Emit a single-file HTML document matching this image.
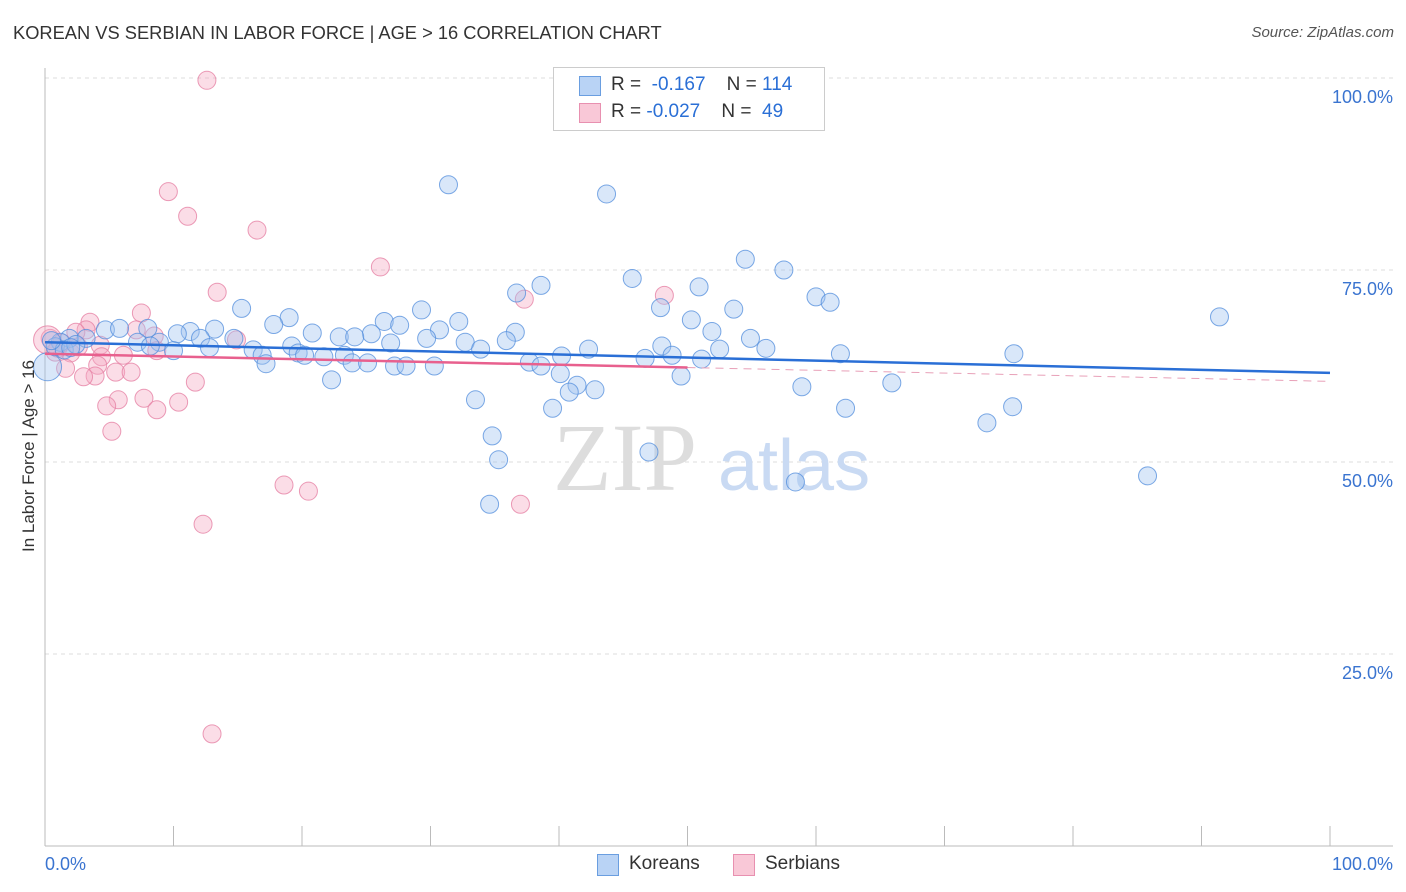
<!DOCTYPE html>
<html><head><meta charset="utf-8"><style>
body{margin:0;background:#fff;font-family:"Liberation Sans",sans-serif;}
#wrap{position:relative;width:1406px;height:892px;overflow:hidden;}
.t{position:absolute;white-space:nowrap;}
</style></head><body>
<div id="wrap">
<div class="t" style="left:13px;top:22px;font-size:18.3px;color:#333;">KOREAN VS SERBIAN IN LABOR FORCE | AGE &gt; 16 CORRELATION CHART</div>
<div class="t" style="right:12px;top:24px;font-size:15px;color:#555;font-style:italic;">Source: ZipAtlas.com</div>
<svg id="svg" width="1406" height="892" style="position:absolute;left:0;top:0"></svg>
</div>
<script>
const blueX=[31.4,43.7,54.5,57.5,45.7,38.6,50.9,36.7,60.0,61.1,15.3,29.3,47.9,53.6,91.4,19.0,32.2,50.3,26.4,17.8,27.6,13.2,30.7,51.9,36.6,20.8,25.4,11.3,10.3,8.0,4.7,5.8,22.9,24.1,29.7,14.7,54.9,12.1,1.9,3.2,1.2,7.2,8.9,19.2,26.9,32.7,35.9,48.0,12.8,8.2,33.9,42.3,52.5,56.1,16.2,19.7,10.0,16.9,21.7,23.3,20.2,40.2,48.8,46.7,51.1,61.9,75.4,17.2,23.9,25.1,27.2,28.1,30.3,37.7,38.6,40.1,49.5,22.3,41.4,40.8,42.8,58.9,65.9,33.5,39.5,62.3,75.3,73.3,34.8,47.0,35.3,85.8,58.4,34.6,0.2,0.8,1.5,2.4,0.5,2.0];
const blueY=[86.1,84.9,76.4,75.0,73.9,73.0,72.8,72.0,71.5,70.8,70.0,69.8,70.1,69.9,68.9,68.8,68.3,68.5,68.3,67.9,67.8,67.3,67.2,67.0,66.9,66.8,66.7,67.0,66.7,67.4,67.2,67.4,66.3,66.3,66.1,66.1,66.1,66.1,66.1,66.1,65.6,65.6,65.6,65.1,65.5,65.6,65.8,65.1,64.9,65.1,64.7,64.7,64.7,64.8,64.6,64.2,64.5,63.9,63.7,63.9,63.9,63.8,63.9,63.5,63.4,64.1,64.1,62.8,62.9,62.9,62.5,62.5,62.5,63.0,62.5,61.5,61.2,60.7,60.0,59.1,59.4,59.8,60.3,58.1,57.0,57.0,57.2,55.1,53.4,51.3,50.3,48.2,47.4,44.5,62.4,65.0,64.6,65.3,65.8,64.9];
const pinkX=[12.6,9.6,11.1,16.5,26.1,13.4,48.2,37.3,7.5,3.5,3.2,7.1,8.5,2.4,14.9,4.3,0.4,1.0,2.0,8.7,6.1,4.4,1.6,4.1,5.5,6.7,3.9,3.0,11.7,5.7,7.7,10.4,4.8,8.7,5.2,18.6,20.5,37.0,12.3,13.0,0.2,1.3,2.6,0.8];
const pinkY=[99.7,85.2,82.0,80.2,75.4,72.1,71.7,71.2,69.4,68.2,67.2,67.2,66.4,66.9,65.9,65.2,66.1,64.8,64.2,64.5,63.9,63.7,62.2,62.6,61.7,61.7,61.2,61.1,60.4,58.1,58.3,57.8,57.3,56.8,54.0,47.0,46.2,44.5,41.9,14.6,65.9,65.5,65.0,64.3];
const blueTrend=[65.6,61.6];
const pinkTrend=[64.1,60.5];
const yTicks=[25,50,75,100];
const xTickVals=[0,10,20,30,40,50,60,70,80,90,100];
const NS='http://www.w3.org/2000/svg';
const svg=document.getElementById('svg');
const X0=45,X1=1330,Y0=846,Y100=78;
const sx=v=>X0+(X1-X0)*v/100;
const sy=v=>Y0-(Y0-Y100)*v/100;
function mk(tag,attrs){const e=document.createElementNS(NS,tag);for(const k in attrs)e.setAttribute(k,attrs[k]);svg.appendChild(e);return e;}
yTicks.forEach(v=>{
 const g=mk('line',{x1:X0,x2:1393,y1:sy(v),y2:sy(v),stroke:'#ddd','stroke-dasharray':'4,4'});
 
 
 const t=mk('text',{x:1393,y:sy(v)+25,'text-anchor':'end','font-size':18,fill:'#3a74d0','font-family':'Liberation Sans'});
 t.textContent=v.toFixed(1)+'%';
 
 
});
let a=mk('line',{x1:X0,x2:X0,y1:68,y2:Y0,stroke:'#bbb'});


a=mk('line',{x1:X0,x2:1393,y1:Y0,y2:Y0,stroke:'#bbb'});


xTickVals.forEach(v=>{
 const l=mk('line',{x1:sx(v),x2:sx(v),y1:826,y2:Y0,stroke:'#bbb'});
 
 
});
let w=mk('text',{x:553,y:490,'font-size':96,fill:'#ddd','font-family':'Liberation Serif'});w.textContent='ZIP';


w=mk('text',{x:718,y:490,'font-size':72,fill:'#c9daf3','font-family':'Liberation Sans'});w.textContent='atlas';


function pts(xs,ys,fill,stroke,name){xs.forEach((v,i)=>{
 const big=(v<0.3);
 const c=mk('circle',{cx:sx(v),cy:sy(ys[i]),r:big?14:9,fill:fill,stroke:stroke,'stroke-width':1});
 
 
});}
pts(pinkX,pinkY,'rgba(244,170,196,0.4)','rgba(230,130,165,0.8)','serbian-point');
pts(blueX,blueY,'rgba(160,196,240,0.4)','rgba(80,140,220,0.75)','korean-point');
let tr=mk('line',{x1:sx(0),x2:sx(100),y1:sy(blueTrend[0]),y2:sy(blueTrend[1]),stroke:'#2a6fd6','stroke-width':2.5});


const pm=(v)=>pinkTrend[0]+(pinkTrend[1]-pinkTrend[0])*v/100;
tr=mk('line',{x1:sx(0),x2:sx(50),y1:sy(pm(0)),y2:sy(pm(50)),stroke:'#e8608e','stroke-width':2.5});


tr=mk('line',{x1:sx(50),x2:sx(100),y1:sy(pm(50)),y2:sy(pm(100)),stroke:'#e8a0b8','stroke-width':1,'stroke-dasharray':'8,6'});


let t=mk('text',{x:45,y:870,'font-size':18,fill:'#3a74d0','font-family':'Liberation Sans'});t.textContent='0.0%';


t=mk('text',{x:1393,y:870,'text-anchor':'end','font-size':18,fill:'#3a74d0','font-family':'Liberation Sans'});t.textContent='100.0%';


t=mk('text',{x:34,y:456,'text-anchor':'middle','font-size':17,fill:'#333','font-family':'Liberation Sans',transform:'rotate(-90 34 456)'});t.textContent='In Labor Force | Age > 16';


</script>
<div class="t" style="left:553px;top:67px;width:270px;height:62px;border:1px solid #ccc;background:#fff;">
 <div class="t" style="left:25px;top:8px;width:20px;height:18px;background:#b9d3f5;border:1px solid #6a9ee0;"></div>
 <div class="t" style="left:57px;top:6px;font-size:19px;color:#333;">R = &nbsp;<span style="color:#2a6fd6">-0.167</span> &nbsp;&nbsp; N = <span style="color:#2a6fd6">114</span></div>
 <div class="t" style="left:25px;top:35px;width:20px;height:18px;background:#f9c8d7;border:1px solid #e890b0;"></div>
 <div class="t" style="left:57px;top:33px;font-size:19px;color:#333;">R = <span style="color:#2a6fd6">-0.027</span> &nbsp;&nbsp; N = &nbsp;<span style="color:#2a6fd6">49</span></div>
</div>
<div class="t" style="left:597px;top:854px;width:20px;height:20px;background:#b9d3f5;border:1px solid #6a9ee0;"></div>
<div class="t" style="left:629px;top:853px;font-size:19px;color:#333;">Koreans</div>
<div class="t" style="left:733px;top:854px;width:20px;height:20px;background:#f9c8d7;border:1px solid #e890b0;"></div>
<div class="t" style="left:765px;top:853px;font-size:19px;color:#333;">Serbians</div>
</body></html>
